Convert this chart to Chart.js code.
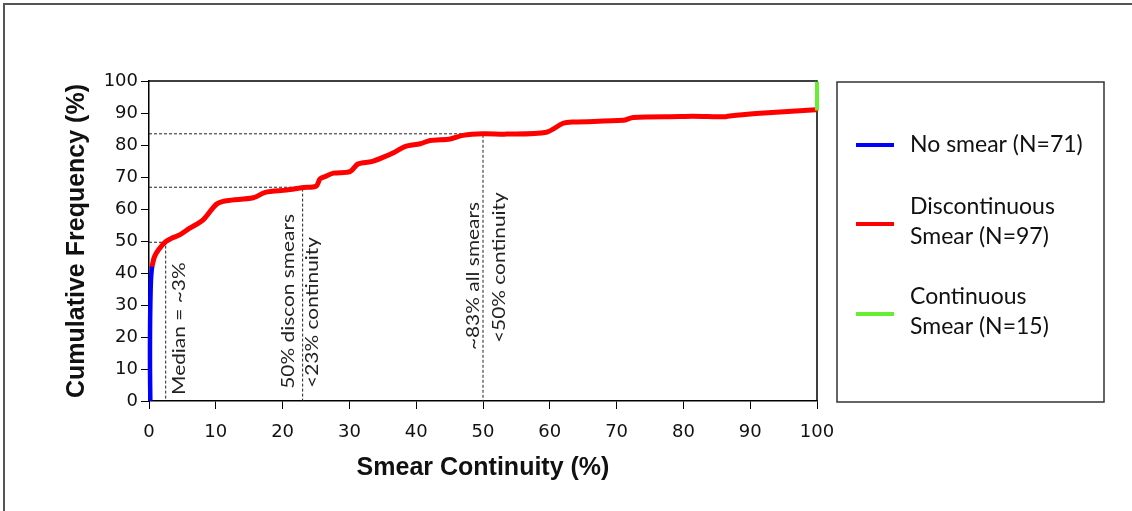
<!DOCTYPE html>
<html><head><meta charset="utf-8">
<script src="https://cdn.jsdelivr.net/npm/chart.js@4/dist/chart.umd.min.js"></script>
<style>html,body{margin:0;padding:0;background:#fff;}#wrap{position:relative;width:1132px;height:511px;}</style>
</head><body><div id="wrap"><canvas id="c" width="1132" height="511"></canvas></div>
<script>
// ---- data ----
const noSmearX = [0.2, 0.15, 0.15, 0.2, 0.3, 0.45];
const noSmearY = [0, 10, 20, 30, 38, 42];
const disconX = [0.45, 0.8, 1.4, 2.5, 3.5, 4.6, 6.1, 8.1, 10.1, 11.6, 15.6, 17.4, 20.6, 23.1, 25.0, 25.6, 26.3, 27.6, 30.1, 31.3, 33.3, 35.1, 36.6, 38.3, 40.6, 42.1, 45.1, 47.0, 50.0, 53.5, 59.5, 62.0, 63.5, 71.0, 72.5, 79.5, 81.4, 86.2, 86.6, 91.5, 99.8];
const disconY = [42, 45, 47.2, 49.8, 51, 51.9, 54, 56.6, 61.5, 62.6, 63.5, 65.2, 65.9, 66.7, 67.1, 69.4, 70.1, 71.2, 71.7, 74.1, 74.8, 76.2, 77.6, 79.5, 80.4, 81.4, 81.9, 83.0, 83.5, 83.4, 84.0, 86.8, 87.2, 87.7, 88.6, 88.9, 89.0, 88.8, 89.0, 89.9, 91.0];
const contX = [100, 100];
const contY = [90.8, 99.8];
const seriesLabels = ['No smear (N=71)', 'Discontinuous\nSmear (N=97)', 'Continuous\nSmear (N=15)'];
const xTickValues = [0, 10, 20, 30, 40, 50, 60, 70, 80, 90, 100];
const yTickValues = [0, 10, 20, 30, 40, 50, 60, 70, 80, 90, 100];
const xTitle = 'Smear Continuity (%)';
const yTitle = 'Cumulative Frequency (%)';
const medianGuide = [2.5, 49.6];
const disconGuide = [23, 66.8];
const allGuide = [50, 83.5];
const noteLines = [['Median = ~3%'], ['50% discon smears', '<23% continuity'], ['~83% all smears', '<50% continuity']];
const noteAnchorX = [[4.5], [20.8, 24.4], [48.6, 52.4]];
const noteAnchorY = [[1.9], [3.8, 4.1], [15.9, 18.1]];

// ---- build ----
const pts = (xs, ys) => xs.map((x, i) => ({x, y: ys[i]}));
const guide = g => [{x: 0, y: g[1]}, {x: g[0], y: g[1]}, {x: g[0], y: 0}];
const seriesColors = ['#0000FF', '#FF0000', '#66EE33'];

const guideStyle = {borderColor: '#222', borderWidth: 1, borderDash: [3, 2], pointRadius: 0, showLine: true, tension: 0, order: 10};
const datasets = [
  Object.assign({label: 'g1', data: guide(medianGuide)}, guideStyle),
  Object.assign({label: 'g2', data: guide(disconGuide)}, guideStyle),
  Object.assign({label: 'g3', data: guide(allGuide)}, guideStyle),
  {label: seriesLabels[0], isSeries: true, data: pts(noSmearX, noSmearY), borderColor: seriesColors[0], borderWidth: 4.5, pointRadius: 0, showLine: true, tension: 0.3, order: 1, clip: false},
  {label: seriesLabels[1], isSeries: true, data: pts(disconX, disconY), borderColor: seriesColors[1], borderWidth: 5, pointRadius: 0, showLine: true, tension: 0.3, order: 1, borderCapStyle: 'round', borderJoinStyle: 'round', clip: false},
  {label: seriesLabels[2], isSeries: true, data: pts(contX, contY), borderColor: seriesColors[2], borderWidth: 4, pointRadius: 0, showLine: true, tension: 0, order: 0, clip: false}
];

const tickFont = {family: "'DejaVu Sans', sans-serif", size: 18};
const titleFont = {family: "'Liberation Sans', Arial, sans-serif", size: 25, weight: 'bold'};

const decor = {
  id: 'decor',
  beforeDraw(chart) {
    const ctx = chart.ctx;
    ctx.save();
    ctx.fillStyle = '#fff';
    ctx.fillRect(0, 0, chart.width, chart.height);
    ctx.strokeStyle = '#555';
    ctx.lineWidth = 2;
    ctx.beginPath();
    ctx.moveTo(4, 511); ctx.lineTo(4, 4); ctx.lineTo(1132, 4);
    ctx.stroke();
    ctx.restore();
  },
  beforeDatasetsDraw(chart) {
    const ctx = chart.ctx, a = chart.chartArea;
    ctx.save();
    ctx.strokeStyle = '#000';
    ctx.lineWidth = 1.5;
    ctx.beginPath();
    ctx.moveTo(a.left, a.top); ctx.lineTo(a.right, a.top); ctx.lineTo(a.right, a.bottom);
    ctx.stroke();
    ctx.restore();
  },
  afterDraw(chart) {
    const ctx = chart.ctx;
    const xs = chart.scales.x, ys = chart.scales.y;
    ctx.save();
    // annotations
    ctx.fillStyle = '#222';
    ctx.font = "18px Lato, sans-serif";
    ctx.textAlign = 'left';
    ctx.textBaseline = 'middle';
    noteLines.forEach((lines, i) => lines.forEach((t, j) => {
      const px = xs.getPixelForValue(noteAnchorX[i][j]);
      const py = ys.getPixelForValue(noteAnchorY[i][j]);
      ctx.save();
      ctx.translate(px, py);
      ctx.rotate(-Math.PI / 2);
      ctx.scale(1.16, 1);
      ctx.fillText(t, 0, 0);
      ctx.restore();
    }));
    // legend
    const lx = 837, ly = 82, lw = 267, lh = 320;
    ctx.strokeStyle = '#333';
    ctx.lineWidth = 1.5;
    ctx.strokeRect(lx, ly, lw, lh);
    const series = chart.data.datasets.filter(d => d.isSeries);
    const centers = [145, 222, 312];
    ctx.font = "23px Lato, sans-serif";
    ctx.fillStyle = '#111';
    ctx.textBaseline = 'middle';
    series.forEach((d, i) => {
      const cy = centers[i];
      const lines = d.label.split('\n');
      ctx.strokeStyle = d.borderColor;
      ctx.lineWidth = 4;
      ctx.beginPath();
      const ly0 = lines.length > 1 ? cy + 2 : cy;
      ctx.moveTo(856, ly0); ctx.lineTo(894, ly0);
      ctx.stroke();
      lines.forEach((t, k) => {
        ctx.fillText(t, 910, cy + (k - (lines.length - 1) / 2) * 30);
      });
    });
    ctx.restore();
  }
};

new Chart(document.getElementById('c'), {
  type: 'scatter',
  data: {datasets},
  options: {
    responsive: false,
    devicePixelRatio: 1,
    animation: false,
    layout: {padding: {left: 0, right: 315, top: 81, bottom: 0}},
    plugins: {legend: {display: false}, tooltip: {enabled: false}},
    scales: {
      x: {
        type: 'linear', min: 0, max: 100,
        afterBuildTicks: s => { s.ticks = xTickValues.map(v => ({value: v})); },
        afterFit: s => { s.height = 110; },
        ticks: {font: tickFont, color: '#111', padding: 13, maxRotation: 0, autoSkip: false},
        grid: {drawOnChartArea: false, drawTicks: true, tickLength: 8, color: '#000', lineWidth: 1},
        border: {display: true, color: '#000', width: 1.5},
        title: {display: true, text: xTitle, font: titleFont, color: '#111', padding: {top: 14, bottom: 28}}
      },
      y: {
        type: 'linear', min: 0, max: 100,
        afterBuildTicks: s => { s.ticks = yTickValues.map(v => ({value: v})); },
        afterFit: s => { s.width = 149; },
        ticks: {font: tickFont, color: '#111', padding: 3, autoSkip: false},
        grid: {drawOnChartArea: false, drawTicks: true, tickLength: 8, color: '#000', lineWidth: 1},
        border: {display: true, color: '#000', width: 1.5},
        title: {display: true, text: yTitle, font: titleFont, color: '#111', padding: {top: 62, bottom: 0}}
      }
    }
  },
  plugins: [decor]
});
</script></body></html>
